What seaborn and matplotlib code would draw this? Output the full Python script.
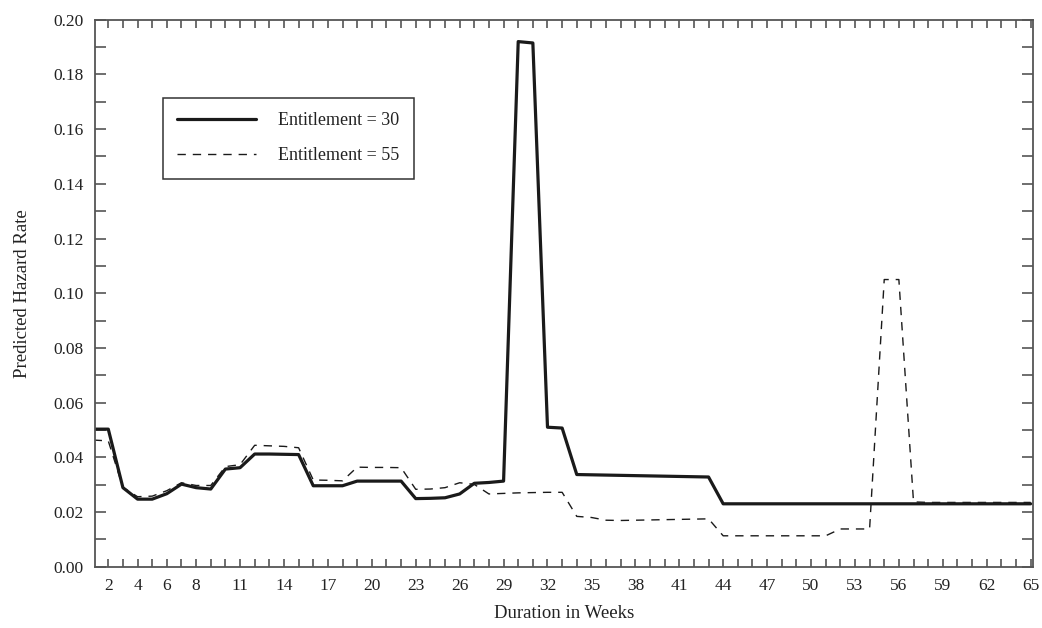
import matplotlib
matplotlib.use("Agg")
import matplotlib.pyplot as plt
import matplotlib.ticker as mticker
import seaborn as sns
import numpy as np

weeks = list(range(1, 66))

entitlement_30 = [
    0.0503, 0.0503, 0.0289, 0.0247, 0.0247, 0.0267, 0.0302, 0.0289, 0.0284, 0.0357,
    0.0362, 0.0412, 0.0412, 0.0411, 0.0410, 0.0296, 0.0296, 0.0296, 0.0313, 0.0313,
    0.0313, 0.0313, 0.0249, 0.0250, 0.0252, 0.0266, 0.0305, 0.0308, 0.0313, 0.1920,
    0.1915, 0.0510, 0.0507, 0.0337, 0.0336, 0.0335, 0.0334, 0.0333, 0.0332, 0.0331,
    0.0330, 0.0329, 0.0328,
    0.0230, 0.0230, 0.0230, 0.0230, 0.0230, 0.0230, 0.0230, 0.0230, 0.0230, 0.0230,
    0.0230, 0.0230, 0.0230, 0.0230, 0.0230, 0.0230, 0.0230, 0.0230, 0.0230, 0.0230,
    0.0230, 0.0230,
]

entitlement_55 = [
    0.0463, 0.0460, 0.0290, 0.0256, 0.0258, 0.0278, 0.0307, 0.0297, 0.0297, 0.0366,
    0.0373, 0.0444, 0.0442, 0.0440, 0.0435, 0.0317, 0.0316, 0.0314, 0.0364, 0.0363,
    0.0363, 0.0362, 0.0283, 0.0284, 0.0289, 0.0307, 0.0301, 0.0266, 0.0268, 0.0270,
    0.0271, 0.0272, 0.0272, 0.0184, 0.0180, 0.0170, 0.0169, 0.0170, 0.0171, 0.0172,
    0.0173, 0.0174, 0.0175,
    0.0113, 0.0113, 0.0113, 0.0113, 0.0113, 0.0113, 0.0113, 0.0113,
    0.0138, 0.0138, 0.0138, 0.1050, 0.1050, 0.0237,
    0.0235, 0.0235, 0.0235, 0.0235, 0.0235, 0.0235, 0.0235, 0.0235,
]

x_tick_labels = [2, 4, 6, 8, 11, 14, 17, 20, 23, 26, 29, 32, 35, 38, 41, 44, 47, 50, 53, 56, 59, 62, 65]
label_30 = "Entitlement = 30"
label_55 = "Entitlement = 55"

sns.set_theme(style="ticks")
plt.rcParams["font.family"] = ["Liberation Serif", "DejaVu Serif"]

fig = plt.figure(figsize=(10.42, 6.28), dpi=100)
ax = fig.add_axes([0.0912, 0.0976, 0.9000, 0.8710])

sns.lineplot(x=weeks, y=entitlement_30, ax=ax, color="#1a1a1a", linewidth=2.3,
             label=label_30)
sns.lineplot(x=weeks, y=entitlement_55, ax=ax, color="#1a1a1a", linewidth=1.0,
             linestyle=(0, (6, 5)), label=label_55)

ax.set_xlim(1.095, 65.15)
ax.set_ylim(0, 0.20)

ax.xaxis.set_major_locator(mticker.FixedLocator(x_tick_labels))
ax.xaxis.set_major_formatter(mticker.FixedFormatter([str(v) for v in x_tick_labels]))
ax.xaxis.set_minor_locator(mticker.FixedLocator([w for w in weeks if w not in x_tick_labels]))
ax.yaxis.set_major_locator(mticker.MultipleLocator(0.02))
ax.yaxis.set_minor_locator(mticker.MultipleLocator(0.01))
ax.yaxis.set_major_formatter(mticker.FormatStrFormatter("%.2f"))

tick_col = "#555555"
ax.tick_params(axis="x", which="both", direction="in", top=True, bottom=True,
               length=6, width=1.2, color=tick_col, labelsize=12.5, pad=8,
               labelcolor="#222222")
ax.tick_params(axis="y", which="both", direction="in", left=True, right=True,
               length=8, width=1.2, color=tick_col, labelsize=12.5, pad=8,
               labelcolor="#222222")
for s in ax.spines.values():
    s.set_visible(True)
    s.set_color("#555555")
    s.set_linewidth(1.3)

ax.set_xlabel("Duration in Weeks", fontsize=13.5, color="#222222", labelpad=8)
ax.set_ylabel("Predicted Hazard Rate", fontsize=13.5, color="#222222", labelpad=16)

leg = ax.legend(loc="upper left", bbox_to_anchor=(0.072, 0.857), borderaxespad=0,
                fancybox=False, edgecolor="#333333", framealpha=1,
                fontsize=13, handlelength=4.4, handletextpad=1.2,
                labelspacing=1.0, borderpad=0.8)
leg.get_frame().set_linewidth(1.1)
for t in leg.get_texts():
    t.set_color("#222222")

fig.savefig("out.png", dpi=100)
